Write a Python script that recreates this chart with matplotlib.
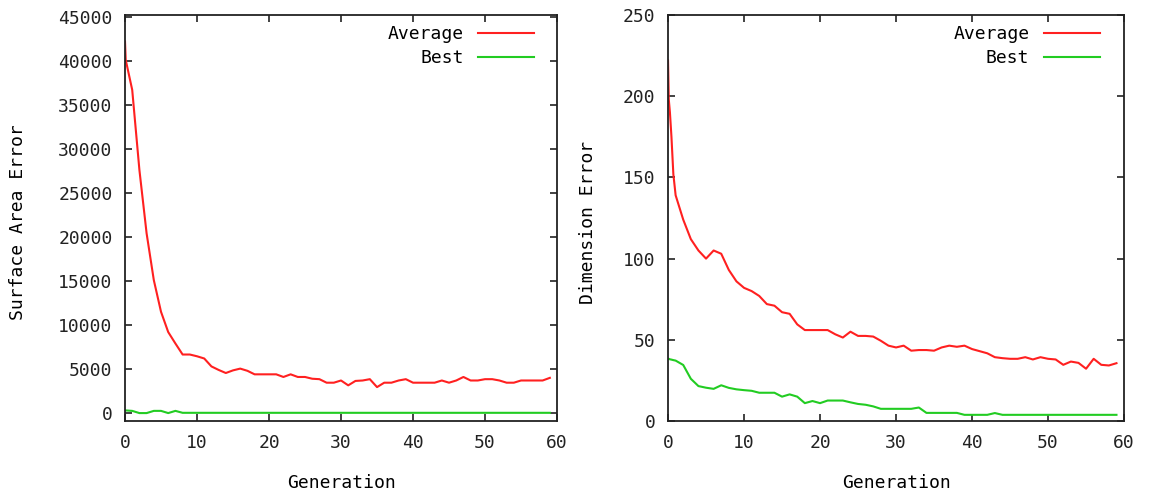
import matplotlib.pyplot as plt

# surface area run
gen_sa = [0, 0.1, 1, 2, 3, 4, 5, 6, 7, 8, 9, 10, 11, 12, 13, 14, 15, 16, 17, 18, 19,
          20, 21, 22, 23, 24, 25, 26, 27, 28, 29, 30, 31, 32, 33, 34, 35, 36, 37, 38, 39,
          40, 41, 42, 43, 44, 45, 46, 47, 48, 49, 50, 51, 52, 53, 54, 55, 56, 57, 58, 59]
avg_sa = [42200, 40100, 36700, 27600, 20400, 15100, 11500, 9200, 7900, 6650, 6650,
          6450, 6200, 5300, 4900, 4550, 4850, 5050, 4800, 4400, 4400,
          4400, 4400, 4100, 4400, 4100, 4100, 3900, 3850, 3450, 3450,
          3700, 3150, 3650, 3700, 3850, 2950, 3450, 3450, 3700, 3850,
          3450, 3450, 3450, 3450, 3700, 3450, 3700, 4100, 3700, 3700,
          3850, 3850, 3700, 3450, 3450, 3700, 3700, 3700, 3700, 4000]
best_sa = [300, 300, 250, 0, 0, 250, 250, 0, 250, 30, 30,
           30, 30, 30, 30, 30, 30, 30, 30, 30, 30,
           30, 30, 30, 30, 30, 30, 30, 30, 30, 30,
           30, 30, 30, 30, 30, 30, 30, 30, 30, 30,
           30, 30, 30, 30, 30, 30, 30, 30, 30, 30,
           30, 30, 30, 30, 30, 30, 30, 30, 30, 30]

# dimension run
gen_dim = [0, 0.1, 0.25, 0.45, 0.7, 1, 2, 3, 4, 5, 6, 7, 8, 9, 10, 11, 12, 13, 14, 15, 16,
           17, 18, 19, 20, 21, 22, 23, 24, 25, 26, 27, 28, 29, 30, 31, 32, 33, 34, 35,
           36, 37, 38, 39, 40, 41, 42, 43, 44, 45, 46, 47, 48, 49, 50, 51, 52, 53, 54,
           55, 56, 57, 58, 59]
avg_dim = [222, 198, 190, 175, 152, 139, 124, 112, 105, 100, 105, 103, 93, 86, 82, 80,
           77, 72, 71, 67, 66, 59.5, 56, 56, 56, 56, 53.4, 51.4, 55, 52.4, 52.4, 52,
           49.4, 46.4, 45.3, 46.4, 43.3, 43.7, 43.7, 43.3, 45.3, 46.4, 45.7, 46.4, 44.3,
           43, 41.7, 39.3, 38.7, 38.3, 38.3, 39.3, 37.9, 39.3, 38.3, 37.9, 34.6, 36.6,
           35.8, 32.2, 38.3, 34.6, 34.2, 35.6]
best_dim = [38.3, 38.3, 38.0, 37.8, 37.5, 37.2, 34.5, 26, 21.5, 20.5, 19.8, 22, 20.4,
            19.5, 19, 18.6, 17.4, 17.4, 17.4, 15, 16.4, 15, 11, 12.3, 11, 12.6, 12.6,
            12.6, 11.5, 10.5, 10, 9, 7.5, 7.5, 7.5, 7.5, 7.5, 8.3, 5, 5, 5, 5, 5, 3.8,
            3.8, 3.8, 3.8, 4.9, 3.8, 3.8, 3.8, 3.8, 3.8, 3.8, 3.8, 3.8, 3.8, 3.8, 3.8,
            3.8, 3.8, 3.8, 3.8, 3.8]

plt.rcParams['font.family'] = 'DejaVu Sans Mono'
plt.rcParams['font.size'] = 13

red = '#ff2020'
green = '#22cc22'

fig = plt.figure(figsize=(11.49, 4.96), dpi=100)
ax1 = fig.add_axes([0.1088, 0.1512, 0.376, 0.8185])
ax2 = fig.add_axes([0.5814, 0.1512, 0.3969, 0.8185])

ax1.plot(gen_sa, avg_sa, color=red, lw=1.5, label='Average')
ax1.plot(gen_sa, best_sa, color=green, lw=1.5, label='Best')
ax1.set_xlim(0, 60)
ax1.set_ylim(-900, 45200)
ax1.set_yticks(range(0, 45001, 5000))
ax1.set_ylabel('Surface Area Error', va='center')
ax1.yaxis.set_label_coords(-0.248, 0.49)

ax2.plot(gen_dim, avg_dim, color=red, lw=1.5, label='Average')
ax2.plot(gen_dim, best_dim, color=green, lw=1.5, label='Best')
ax2.set_xlim(0, 60)
ax2.set_ylim(0, 250)
ax2.set_yticks(range(0, 251, 50))
ax2.set_ylabel('Dimension Error', va='center')
ax2.yaxis.set_label_coords(-0.175, 0.49)

for ax in (ax1, ax2):
    ax.set_xticks(range(0, 61, 10))
    ax.set_xlabel('Generation', va='center')
    ax.xaxis.set_label_coords(0.5, -0.153)
    ax.tick_params(direction='in', top=True, right=True, length=5, width=1.2,
                   pad=9, colors='#222222')
    for s in ax.spines.values():
        s.set_linewidth(1.3)
        s.set_color('#222222')
    ax.legend(loc='upper right', bbox_to_anchor=(0.947, 0.975), frameon=False,
              markerfirst=False, handlelength=3.1, handletextpad=0.8,
              labelspacing=0.35, borderpad=0, borderaxespad=0)

plt.savefig('out.png')
